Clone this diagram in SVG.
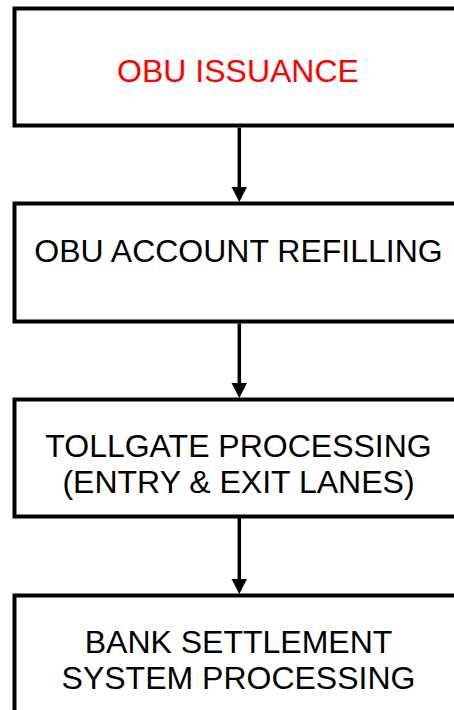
<svg xmlns="http://www.w3.org/2000/svg" width="454" height="710" viewBox="0 0 454 710">
<style>
.box{fill:#fff;stroke:#000;stroke-width:4}
.t{font-family:"Liberation Sans",Arial,sans-serif;font-size:32px;text-anchor:middle;fill:#000}
.red{fill:#ff0000}
.c{stroke:#000;stroke-width:3.5;fill:none}
</style>
<rect width="454" height="710" fill="#fff"/>
<g id="n1"><rect class="box" x="14.5" y="8.5" width="447" height="117"/><text class="t red" x="238" y="82">OBU ISSUANCE</text></g>
<g id="n2"><rect class="box" x="14.5" y="203.5" width="447" height="118"/><text class="t" x="238.5" y="262">OBU ACCOUNT REFILLING</text></g>
<g id="n3"><rect class="box" x="14.5" y="399.5" width="447" height="117"/><text class="t" x="238.5" y="456.5">TOLLGATE PROCESSING</text><text class="t" x="238.5" y="492.5">(ENTRY &amp; EXIT LANES)</text></g>
<g id="n4"><rect class="box" x="14.5" y="595.5" width="447" height="130"/><text class="t" x="238.5" y="653">BANK SETTLEMENT</text><text class="t" x="238.5" y="689">SYSTEM PROCESSING</text></g>
<g id="connectors">
<line class="c" x1="239.3" y1="127.5" x2="239.3" y2="189"/><polygon points="231.5,187 247,187 239.3,202"/>
<line class="c" x1="239.3" y1="323.5" x2="239.3" y2="385"/><polygon points="231.5,383 247,383 239.3,398"/>
<line class="c" x1="239.3" y1="518" x2="239.3" y2="581"/><polygon points="231.5,579 247,579 239.3,594"/>
</g>
</svg>
